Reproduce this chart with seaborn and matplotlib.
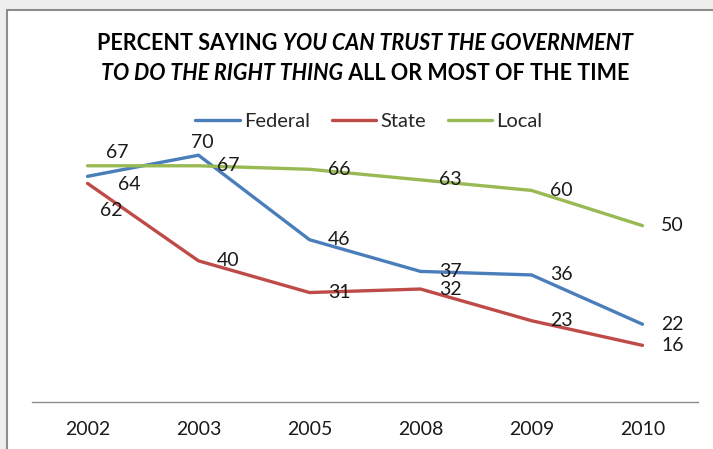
import matplotlib
matplotlib.use("Agg")
import matplotlib.pyplot as plt
import seaborn as sns
import pandas as pd
from matplotlib.patches import Rectangle
from matplotlib.lines import Line2D

years = ["2002", "2003", "2005", "2008", "2009", "2010"]
federal = [64, 70, 46, 37, 36, 22]
state = [62, 40, 31, 32, 23, 16]
local = [67, 67, 66, 63, 60, 50]
series_names = ["Federal", "State", "Local"]
colors = {"Federal": "#4A7EBB", "State": "#BE4B48", "Local": "#98B954"}

rows = []
for name, vals in zip(series_names, [federal, state, local]):
    for y, v in zip(years, vals):
        rows.append({"Year": y, "Value": v, "Series": name})
df = pd.DataFrame(rows)

sns.set_style("white")
FONT = ["Lato", "DejaVu Sans"]
plt.rcParams["font.family"] = FONT

W, H = 713, 449
fig = plt.figure(figsize=(W / 100, H / 100), dpi=100, facecolor="#eeeeee")
# chart frame
frame = Rectangle((7 / W, -0.2), 1.2, 1 - 10 / H + 0.2, transform=fig.transFigure,
                  facecolor="white", edgecolor="#8c8c8c", linewidth=1.5, zorder=-5)
fig.patches.append(frame)

ax_bottom, ax_top = 401.7, 120.0
ax = fig.add_axes([32 / W, 1 - ax_bottom / H, (698 - 32) / W, (ax_bottom - ax_top) / H])
ax.set_zorder(2)
ax.set_facecolor("none")
sns.lineplot(data=df, x="Year", y="Value", hue="Series", palette=colors,
             linewidth=2.4, ax=ax, legend=False, sort=False)
ax.set_xlim(-0.5, 5.5)
ax.set_ylim(0, 80)
for s in ["top", "right", "left"]:
    ax.spines[s].set_visible(False)
ax.spines["bottom"].set_color("#8c8c8c")
ax.spines["bottom"].set_linewidth(1.0)
ax.set_yticks([])
ax.set_xlabel("")
ax.set_ylabel("")
ax.tick_params(axis="x", length=0, pad=14, labelsize=14, labelcolor="#1a1a1a")

px = 0.72  # pixel -> points
special = {
    ("Local", 0): (30, -13),
    ("Federal", 0): (42, 8),
    ("State", 0): (24, 27),
    ("Federal", 1): (4, -13),
}
for name, vals in zip(series_names, [federal, state, local]):
    for i, v in enumerate(vals):
        dx, dy = special.get((name, i), (30, 0))
        ax.annotate(str(v), (i, v), xytext=(dx * px, -dy * px), textcoords="offset points",
                    ha="center", va="center", fontsize=14, color="#1a1a1a")

# legend
handles = [Line2D([], [], color=colors[n], linewidth=2.4) for n in series_names]
fig.legend(handles, series_names, loc="center", bbox_to_anchor=(369 / W, 1 - 121 / H),
           ncol=3, frameon=False, fontsize=14.5, handlelength=2.2, handletextpad=0.2,
           columnspacing=1.1)

# title with mixed bold / bold-italic
title_lines = [
    [("PERCENT SAYING ", "normal"), ("YOU CAN TRUST THE GOVERNMENT", "italic")],
    [("TO DO THE RIGHT THING", "italic"), (" ALL OR MOST OF THE TIME", "normal")],
]
title_y = [1 - 44 / H, 1 - 73 / H]
cx = 365 / W
fig.canvas.draw()
renderer = fig.canvas.get_renderer()
for parts, yy in zip(title_lines, title_y):
    texts = []
    for txt, style in parts:
        t = fig.text(0, yy, txt, fontsize=15.5, fontweight="bold", fontstyle=style,
                     ha="left", va="center", color="black")
        texts.append(t)
    widths = [t.get_window_extent(renderer).width / W for t in texts]
    total = sum(widths)
    x0 = cx - total / 2
    for t, w in zip(texts, widths):
        t.set_x(x0)
        x0 += w

fig.savefig("out.png", dpi=100, facecolor=fig.get_facecolor())
